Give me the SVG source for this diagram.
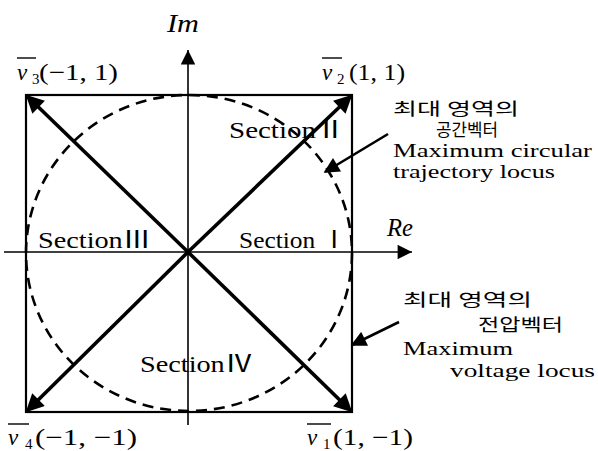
<svg xmlns="http://www.w3.org/2000/svg" width="598" height="451" viewBox="0 0 598 451">
<style>
text{font-family:"Liberation Serif","Noto Sans CJK KR",serif;fill:#000}
.lbl{font-size:23px}
.it{font-style:italic}
.sub{font-size:15px}
.sec{font-size:24px}
.kr{font-family:"Noto Sans CJK KR","Liberation Serif",serif;font-size:17px}
.en{font-size:19px}
.ax{stroke:#000;stroke-width:1.6;fill:none}
.box{stroke:#000;stroke-width:2.2;fill:none}
.diag{stroke:#000;stroke-width:3.6;fill:none}
.ann{stroke:#000;stroke-width:2.6;fill:none}
.ov{stroke:#000;stroke-width:1.4}
</style>
<defs>
<marker id="ah" viewBox="0 0 10 10" refX="9" refY="5" markerWidth="5.5" markerHeight="5" orient="auto" markerUnits="strokeWidth">
<path d="M0,0 L10,5 L0,10 Z" fill="#000"/>
</marker>
<marker id="ahs" viewBox="0 0 10 10" refX="9" refY="5" markerWidth="7" markerHeight="6" orient="auto" markerUnits="strokeWidth">
<path d="M0,0 L10,5 L0,10 Z" fill="#000"/>
</marker>
<marker id="axh" viewBox="0 0 10 10" refX="10" refY="5" markerWidth="11" markerHeight="9" orient="auto" markerUnits="strokeWidth">
<path d="M0,0 L10,5 L0,10 Z" fill="#000"/>
</marker>
</defs>
<g id="frame">
<rect class="box" x="26" y="95" width="326" height="317"/>
<ellipse cx="189" cy="253" rx="163" ry="158" fill="none" stroke="#000" stroke-width="2.6" stroke-dasharray="11 7"/>
</g>
<g id="axes">
<line class="ax" x1="4" y1="252" x2="412" y2="252" marker-end="url(#axh)"/>
<line class="ax" x1="188" y1="425" x2="188" y2="50" marker-end="url(#axh)"/>
</g>
<g id="connectors">
<line class="diag" x1="188" y1="252" x2="27" y2="96" marker-end="url(#ah)"/>
<line class="diag" x1="188" y1="252" x2="351" y2="96" marker-end="url(#ah)"/>
<line class="diag" x1="188" y1="252" x2="27" y2="411" marker-end="url(#ah)"/>
<line class="diag" x1="188" y1="252" x2="351" y2="411" marker-end="url(#ah)"/>
<line class="ann" x1="388" y1="134" x2="325" y2="172" marker-end="url(#ahs)"/>
<line class="ann" x1="399" y1="322" x2="352" y2="345" marker-end="url(#ahs)"/>
</g>
<g id="axis-labels">
<text class="it" x="167" y="32" font-size="25" textLength="32" lengthAdjust="spacingAndGlyphs">Im</text>
<text class="it" x="387" y="236" font-size="25" textLength="26" lengthAdjust="spacingAndGlyphs">Re</text>
</g>
<g id="v3">
<line class="ov" x1="17" y1="58" x2="36" y2="58"/>
<text class="lbl it" x="17" y="80" font-size="26">v</text>
<text class="sub" x="32" y="84">3</text>
<text class="lbl" x="39" y="80" textLength="79" lengthAdjust="spacingAndGlyphs">(−1, 1)</text>
</g>
<g id="v2">
<line class="ov" x1="322" y1="58" x2="342" y2="58"/>
<text class="lbl it" x="322" y="80" font-size="26">v</text>
<text class="sub" x="337" y="84">2</text>
<text class="lbl" x="349" y="80" textLength="56" lengthAdjust="spacingAndGlyphs">(1, 1)</text>
</g>
<g id="v4">
<line class="ov" x1="8" y1="424" x2="29" y2="424"/>
<text class="lbl it" x="8" y="445" font-size="26">v</text>
<text class="sub" x="25" y="449">4</text>
<text class="lbl" x="35" y="445" textLength="102" lengthAdjust="spacingAndGlyphs">(−1, −1)</text>
</g>
<g id="v1">
<line class="ov" x1="307" y1="424" x2="331" y2="424"/>
<text class="lbl it" x="307" y="445" font-size="26">v</text>
<text class="sub" x="323" y="449">1</text>
<text class="lbl" x="333" y="445" textLength="80" lengthAdjust="spacingAndGlyphs">(1, −1)</text>
</g>
<g id="sections">
<text class="sec" x="229" y="138" textLength="116" lengthAdjust="spacingAndGlyphs">SectionⅡ</text>
<text class="sec" x="38" y="248" textLength="113" lengthAdjust="spacingAndGlyphs">SectionⅢ</text>
<text class="sec" x="239" y="248" textLength="108" lengthAdjust="spacingAndGlyphs">Section Ⅰ</text>
<text class="sec" x="140" y="372" textLength="113" lengthAdjust="spacingAndGlyphs">SectionⅣ</text>
</g>
<g id="note-circular">
<text class="kr" x="393" y="115" textLength="126" lengthAdjust="spacingAndGlyphs">최대 영역의</text>
<text class="kr" x="436" y="136" textLength="62" lengthAdjust="spacingAndGlyphs">공간벡터</text>
<text class="en" x="393" y="157" textLength="199" lengthAdjust="spacingAndGlyphs">Maximum circular</text>
<text class="en" x="393" y="178" textLength="162" lengthAdjust="spacingAndGlyphs">trajectory locus</text>
</g>
<g id="note-voltage">
<text class="kr" x="403" y="306" textLength="129" lengthAdjust="spacingAndGlyphs">최대 영역의</text>
<text class="kr" x="478" y="331" textLength="85" lengthAdjust="spacingAndGlyphs">전압벡터</text>
<text class="en" x="403" y="355" textLength="110" lengthAdjust="spacingAndGlyphs">Maximum</text>
<text class="en" x="450" y="377" textLength="145" lengthAdjust="spacingAndGlyphs">voltage locus</text>
</g>
</svg>
